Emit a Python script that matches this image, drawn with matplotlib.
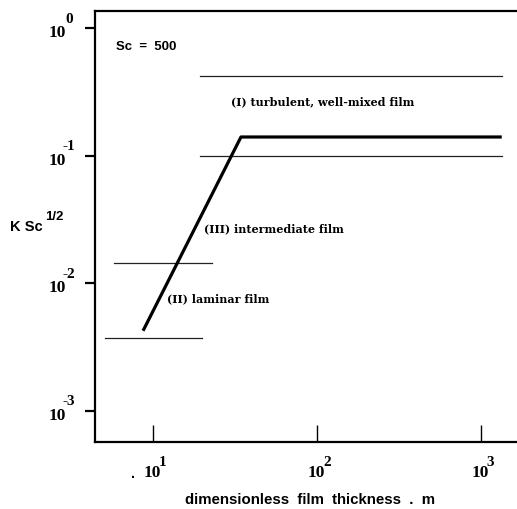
import matplotlib
matplotlib.use("Agg")
import math
import matplotlib.pyplot as plt
from matplotlib.ticker import FixedLocator, NullFormatter, NullLocator

# Mass-transfer coefficient regimes for a film, Sc = 500
curve_m = [8.7, 34.4, 1340]
curve_k = [0.00424, 0.14, 0.14]

turb_m = [19.4, 1340]
turb_upper = 0.42
turb_lower = 0.10

lam_upper_m = [5.8, 23.0]
lam_upper = 0.0143
lam_lower_m = [5.1, 20.0]
lam_lower = 0.00373

x_ticks = [10, 100, 1000]
y_ticks = [1e-3, 1e-2, 1e-1, 1e0]

serif_bold = dict(family="Liberation Serif", weight="bold")
label_serif = dict(family="DejaVu Serif", weight="bold")
sans_bold = dict(family="Liberation Sans", weight="bold")

fig = plt.figure(figsize=(5.17, 5.09), dpi=100)
ax = fig.add_axes([95 / 517, 67 / 509, 1 - 95 / 517, (442 - 11) / 509])
ax.set_xscale("log")
ax.set_yscale("log")
ax.set_xlim(4.43, 1660)
ax.set_ylim(5.7e-4, 1.36)

# regime boundaries
ax.plot(turb_m, [turb_upper] * 2, color="#222222", lw=0.9)
ax.plot(turb_m, [turb_lower] * 2, color="#222222", lw=0.9)
ax.plot(lam_upper_m, [lam_upper] * 2, color="#222222", lw=0.9)
ax.plot(lam_lower_m, [lam_lower] * 2, color="#222222", lw=0.9)

# composite correlation
ax.plot(curve_m, curve_k, color="black", lw=2.3, solid_capstyle="butt")

ax.text(0.05, 0.917, "Sc  =  500", transform=ax.transAxes, fontsize=9.5,
        ha="left", va="center", **sans_bold)
ax.text(29.9, 0.263, "(I) turbulent, well-mixed film", fontsize=8.0,
        ha="left", va="center", **label_serif)
ax.text(20.5, 0.0267, "(III) intermediate film", fontsize=8.0,
        ha="left", va="center", **label_serif)
ax.text(12.2, 0.00755, "(II) laminar film", fontsize=8.0,
        ha="left", va="center", **label_serif)

for side in ("left", "bottom", "top"):
    ax.spines[side].set_linewidth(1.6)
ax.spines["right"].set_visible(False)

ax.xaxis.set_major_locator(FixedLocator(x_ticks))
ax.xaxis.set_minor_locator(NullLocator())
ax.yaxis.set_major_locator(FixedLocator(y_ticks))
ax.yaxis.set_minor_locator(NullLocator())
ax.xaxis.set_major_formatter(NullFormatter())
ax.yaxis.set_major_formatter(NullFormatter())
ax.tick_params(axis="x", direction="in", length=12, width=1.0)
ax.tick_params(axis="y", direction="out", length=7, width=1.6)

PX = 72 / 100  # points per pixel

# decade labels: "10" with a raised exponent
for v in x_ticks:
    e = int(round(math.log10(v)))
    ax.annotate("10", xy=(v, 0), xycoords=("data", "axes fraction"),
                xytext=(-1 * PX, -31 * PX), textcoords="offset points",
                ha="center", va="center", fontsize=12.5, **serif_bold)
    ax.annotate(str(e), xy=(v, 0), xycoords=("data", "axes fraction"),
                xytext=(6 * PX, -21 * PX), textcoords="offset points",
                ha="left", va="center", fontsize=11, **serif_bold)
for v in y_ticks:
    e = int(round(math.log10(v)))
    ax.annotate("10", xy=(0, v), xycoords=("axes fraction", "data"),
                xytext=(-29 * PX, -5 * PX), textcoords="offset points",
                ha="right", va="center", fontsize=12.5, **serif_bold)
    ax.annotate(str(e), xy=(0, v), xycoords=("axes fraction", "data"),
                xytext=(-26 * PX, 9 * PX), textcoords="offset points",
                ha="center", va="center", fontsize=11, **serif_bold)

ax.text(7.55, -0.075, ".", transform=ax.get_xaxis_transform(), fontsize=10,
        ha="center", va="center", **sans_bold)

ax.set_xlabel("dimensionless  film  thickness  .  m", fontsize=10.8,
              **sans_bold)
ax.xaxis.set_label_coords(0.509, -0.1346)
ax.xaxis.label.set_va("center")

ax.text(-0.2014, 0.499, "K Sc", transform=ax.transAxes, fontsize=10.5,
        ha="left", va="center", **sans_bold)
ax.text(-0.1185, 0.522, "1/2", transform=ax.transAxes, fontsize=9.5,
        ha="left", va="center", **sans_bold)

fig.savefig("out.png", dpi=100)
